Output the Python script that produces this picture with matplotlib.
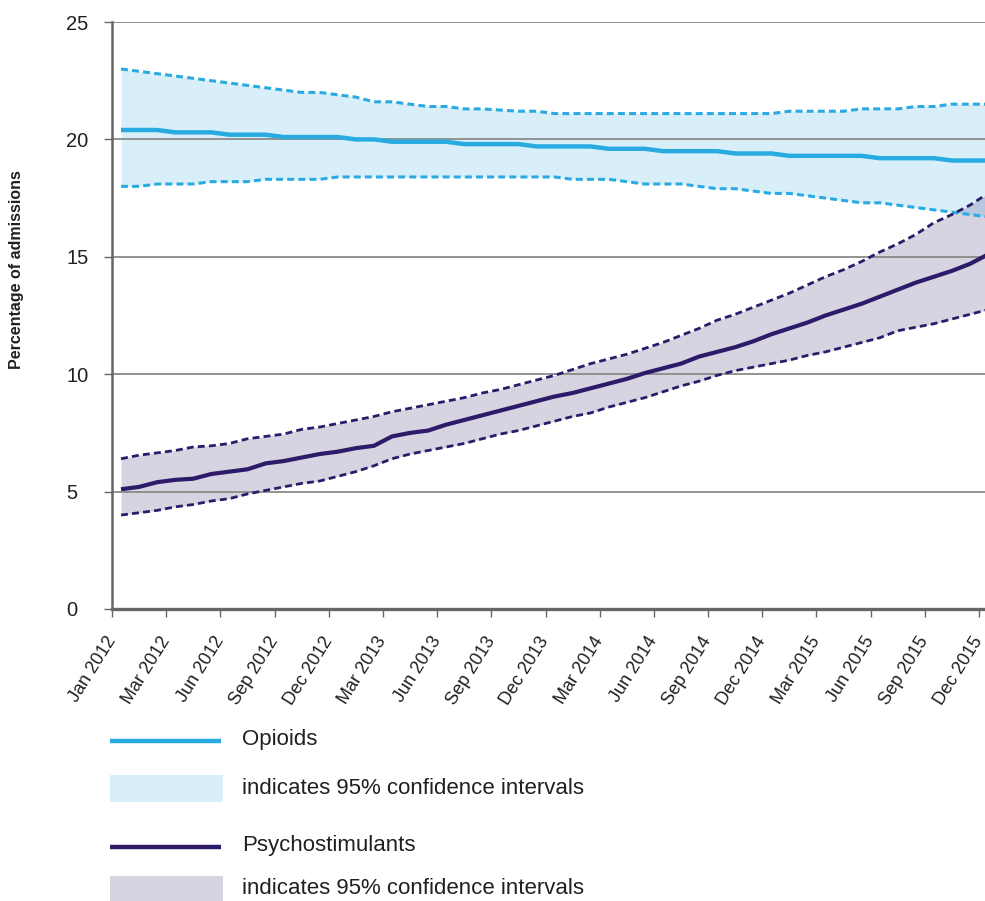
import matplotlib
matplotlib.use("Agg")
import matplotlib.pyplot as plt
from matplotlib.lines import Line2D
from matplotlib.patches import Rectangle

plt.rcParams['font.family'] = ['Liberation Sans', 'DejaVu Sans']
plt.rcParams['lines.scale_dashes'] = False

tick_labels = ["Jan 2012", "Mar 2012", "Jun 2012", "Sep 2012", "Dec 2012",
               "Mar 2013", "Jun 2013", "Sep 2013", "Dec 2013",
               "Mar 2014", "Jun 2014", "Sep 2014", "Dec 2014",
               "Mar 2015", "Jun 2015", "Sep 2015", "Dec 2015"]

opioids = [20.4, 20.4, 20.4, 20.3, 20.3, 20.3, 20.2, 20.2, 20.2, 20.1,
           20.1, 20.1, 20.1, 20.0, 20.0, 19.9, 19.9, 19.9, 19.9, 19.8,
           19.8, 19.8, 19.8, 19.7, 19.7, 19.7, 19.7, 19.6, 19.6, 19.6,
           19.5, 19.5, 19.5, 19.5, 19.4, 19.4, 19.4, 19.3, 19.3, 19.3,
           19.3, 19.3, 19.2, 19.2, 19.2, 19.2, 19.1, 19.1, 19.1]
opioids_hi = [23.0, 22.9, 22.8, 22.7, 22.6, 22.5, 22.4, 22.3, 22.2, 22.1,
              22.0, 22.0, 21.9, 21.8, 21.6, 21.6, 21.5, 21.4, 21.4, 21.3,
              21.3, 21.25, 21.2, 21.2, 21.1, 21.1, 21.1, 21.1, 21.1, 21.1,
              21.1, 21.1, 21.1, 21.1, 21.1, 21.1, 21.1, 21.2, 21.2, 21.2,
              21.2, 21.3, 21.3, 21.3, 21.4, 21.4, 21.5, 21.5, 21.5]
opioids_lo = [18.0, 18.0, 18.1, 18.1, 18.1, 18.2, 18.2, 18.2, 18.3, 18.3,
              18.3, 18.3, 18.4, 18.4, 18.4, 18.4, 18.4, 18.4, 18.4, 18.4,
              18.4, 18.4, 18.4, 18.4, 18.4, 18.3, 18.3, 18.3, 18.2, 18.1,
              18.1, 18.1, 18.0, 17.9, 17.9, 17.8, 17.7, 17.7, 17.6, 17.5,
              17.4, 17.3, 17.3, 17.2, 17.1, 17.0, 16.9, 16.8, 16.7]

psycho = [5.1, 5.2, 5.4, 5.5, 5.55, 5.75, 5.85, 5.95, 6.2, 6.3,
          6.45, 6.6, 6.7, 6.85, 6.95, 7.35, 7.5, 7.6, 7.85, 8.05,
          8.25, 8.45, 8.65, 8.85, 9.05, 9.2, 9.4, 9.6, 9.8, 10.05,
          10.25, 10.45, 10.75, 10.95, 11.15, 11.4, 11.7, 11.95, 12.2, 12.5,
          12.75, 13.0, 13.3, 13.6, 13.9, 14.15, 14.4, 14.7, 15.1]
psycho_hi = [6.4, 6.55, 6.65, 6.75, 6.9, 6.95, 7.05, 7.25, 7.35, 7.45,
             7.65, 7.75, 7.9, 8.05, 8.2, 8.4, 8.55, 8.7, 8.85, 9.0,
             9.2, 9.35, 9.55, 9.75, 9.95, 10.2, 10.45, 10.65, 10.85, 11.1,
             11.35, 11.65, 11.95, 12.3, 12.55, 12.85, 13.15, 13.45, 13.8, 14.15,
             14.45, 14.8, 15.2, 15.55, 15.95, 16.45, 16.8, 17.2, 17.7]
psycho_lo = [4.0, 4.1, 4.2, 4.35, 4.45, 4.6, 4.7, 4.9, 5.05, 5.2,
             5.35, 5.45, 5.65, 5.85, 6.1, 6.4, 6.6, 6.75, 6.9, 7.05,
             7.25, 7.45, 7.6, 7.8, 8.0, 8.2, 8.35, 8.6, 8.8, 9.0,
             9.25, 9.5, 9.7, 9.95, 10.15, 10.3, 10.45, 10.6, 10.8, 10.95,
             11.15, 11.35, 11.55, 11.85, 12.0, 12.15, 12.35, 12.55, 12.75]

C_OP = '#29abe2'
C_PS = '#2d1b69'
GRID = '#8a8a8a'
AXC = '#666666'
TXT = '#231f20'

W, H = 985, 901
fig = plt.figure(figsize=(W / 100, H / 100), dpi=100)
ax = fig.add_axes([112 / W, (H - 609) / H, (1000 - 112) / W, (609 - 22) / H])

x = list(range(len(opioids)))

ax.fill_between(x, opioids_lo, opioids_hi, color=C_OP, alpha=0.18, lw=0, zorder=1)
ax.fill_between(x, psycho_lo, psycho_hi, color=C_PS, alpha=0.19, lw=0, zorder=1.1)

for yv in [5, 10, 15, 20, 25]:
    ax.axhline(yv, color=GRID, lw=1.3, zorder=2)

ax.plot(x, opioids_hi, color=C_OP, lw=2.2, dashes=(5, 3), zorder=3)
ax.plot(x, opioids_lo, color=C_OP, lw=2.2, dashes=(5, 3), zorder=3)
ax.plot(x, psycho_hi, color=C_PS, lw=2.0, dashes=(5, 3), zorder=3)
ax.plot(x, psycho_lo, color=C_PS, lw=2.0, dashes=(5, 3), zorder=3)
ax.plot(x, opioids, color=C_OP, lw=3.2, zorder=4, solid_capstyle='butt')
ax.plot(x, psycho, color=C_PS, lw=3.0, zorder=4, solid_capstyle='butt')

unit = 867 / 48
ax.set_xlim(-0.5, -0.5 + (1000 - 112) / unit)
ax.set_ylim(0, 25)

for s in ['top', 'right']:
    ax.spines[s].set_visible(False)
ax.spines['left'].set_color(AXC)
ax.spines['left'].set_linewidth(1.8)
ax.spines['bottom'].set_color(AXC)
ax.spines['bottom'].set_linewidth(2.4)
ax.spines['bottom'].set_zorder(5)

ax.set_yticks([0, 5, 10, 15, 20, 25])
ax.set_yticklabels(['0', '5', '10', '15', '20', '25'], fontsize=14.5, color=TXT)
ax.tick_params(axis='y', length=6, width=1.0, color=AXC, pad=27)
for lab in ax.get_yticklabels():
    lab.set_horizontalalignment('left')

ax.set_xticks([-0.5 + 3 * k for k in range(len(tick_labels))])
ax.set_xticklabels(tick_labels, fontsize=13, color=TXT, rotation=58,
                   ha='right', va='center', rotation_mode='anchor')
ax.tick_params(axis='x', length=6, width=1.0, color=AXC, pad=15)

fig.text(17 / W, 1 - 270 / H, 'Percentage of admissions', rotation=90,
         ha='center', va='center', fontsize=11.5, fontweight='bold', color=TXT)

# legend
def fy(py):
    return 1 - py / H

def fx(px):
    return px / W

fig.add_artist(Line2D([fx(110), fx(221)], [fy(740.5), fy(740.5)], color=C_OP, lw=3.2,
                      solid_capstyle='butt'))
fig.text(fx(242), fy(740), 'Opioids', fontsize=16, color=TXT, va='center', ha='left')
fig.add_artist(Rectangle((fx(110), fy(801.5)), fx(223) - fx(110), fy(775) - fy(801.5),
                         transform=fig.transFigure, color=C_OP, alpha=0.18, lw=0))
fig.text(fx(242), fy(788), 'indicates 95% confidence intervals', fontsize=16,
         color=TXT, va='center', ha='left')
fig.add_artist(Line2D([fx(110), fx(221)], [fy(846.5), fy(846.5)], color=C_PS, lw=3.2,
                      solid_capstyle='butt'))
fig.text(fx(242), fy(846), 'Psychostimulants', fontsize=16, color=TXT, va='center', ha='left')
fig.add_artist(Rectangle((fx(110), fy(902)), fx(223) - fx(110), fy(876) - fy(902),
                         transform=fig.transFigure, color=C_PS, alpha=0.19, lw=0))
fig.text(fx(242), fy(889), 'indicates 95% confidence intervals', fontsize=16,
         color=TXT, va='center', ha='left')

fig.savefig('out.png', dpi=100)
